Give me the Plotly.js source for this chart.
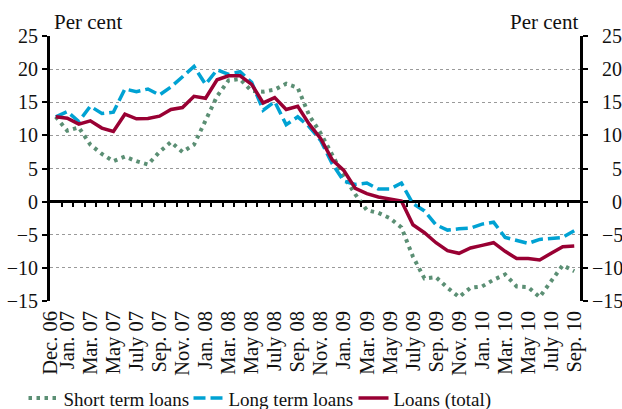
<!DOCTYPE html>
<html>
<head>
<meta charset="utf-8">
<script src="https://cdn.plot.ly/plotly-3.0.1.min.js"></script>
<style>
  html, body { margin: 0; padding: 0; background: #ffffff; }
  #chart { width: 622px; height: 409px; }
</style>
</head>
<body>
<div id="chart"></div>
<script>
// Monthly categories, Dec 2006 - Sep 2010
const months = [
  'Dec. 06',
  'Jan. 07','Feb. 07','Mar. 07','Apr. 07','May 07','June 07','July 07','Aug. 07','Sep. 07','Oct. 07','Nov. 07','Dec. 07',
  'Jan. 08','Feb. 08','Mar. 08','Apr. 08','May 08','June 08','July 08','Aug. 08','Sep. 08','Oct. 08','Nov. 08','Dec. 08',
  'Jan. 09','Feb. 09','Mar. 09','Apr. 09','May 09','June 09','July 09','Aug. 09','Sep. 09','Oct. 09','Nov. 09','Dec. 09',
  'Jan. 10','Feb. 10','Mar. 10','Apr. 10','May 10','June 10','July 10','Aug. 10','Sep. 10'
];

// Tick labels shown on the x axis
const tickLabels = [
  'Dec. 06','Jan. 07','Mar. 07','May 07','July 07','Sep. 07','Nov. 07',
  'Jan. 08','Mar. 08','May 08','July 08','Sep. 08','Nov. 08',
  'Jan. 09','Mar. 09','May 09','July 09','Sep. 09','Nov. 09',
  'Jan. 10','Mar. 10','May 10','July 10','Sep. 10'
];

// Series (per cent, annual growth)
const shortTerm = [
  12.8,
  10.7, 11.2, 8.6, 7.2, 6.1, 6.8, 6.1, 5.6, 7.5, 9.0, 7.5, 8.6,
  12.2, 15.9, 18.3, 18.5, 16.7, 16.6, 16.9, 17.8, 17.2, 13.0, 10.3, 7.0,
  3.8, 1.1, -1.3, -1.7, -2.5, -3.9, -8.3, -11.6, -11.4, -13.0, -14.4, -13.0,
  -12.8, -11.8, -11.0, -12.8, -12.9, -14.4, -12.0, -9.6, -10.5
];
const longTerm = [
  12.8,
  13.6, 12.1, 14.4, 13.3, 13.5, 17.0, 16.6, 17.0, 16.1, 17.3, 18.8, 20.4,
  17.7, 19.9, 19.2, 19.6, 18.0, 13.8, 15.1, 11.6, 12.8, 11.3, 9.2, 5.7,
  3.1, 2.6, 2.8, 1.9, 1.9, 2.8, -0.3, -1.4, -3.5, -4.3, -4.1, -4.0,
  -3.4, -3.1, -5.4, -5.9, -6.3, -5.7, -5.6, -5.4, -4.4
];
const totalLoans = [
  12.8,
  12.6, 11.7, 12.2, 11.1, 10.6, 13.2, 12.5, 12.55, 12.9, 13.9, 14.2, 15.9,
  15.6, 18.4, 19.0, 19.0, 17.7, 14.9, 15.7, 13.9, 14.4, 11.7, 9.5, 6.3,
  4.7, 2.0, 1.2, 0.7, 0.4, 0.1, -3.5, -4.7, -6.2, -7.4, -7.8, -7.0,
  -6.6, -6.2, -7.5, -8.6, -8.6, -8.8, -7.8, -6.8, -6.7
];

const seriesNames = ['Short term loans', 'Long term loans', 'Loans (total)'];
const yTicks = [-15, -10, -5, 0, 5, 10, 15, 20, 25];

const FONT = 'Liberation Serif, Times New Roman, serif';
const TXT = '#111111';
const xIdx = months.map((_, i) => i);
const xRange = [-0.5, months.length - 0.5];
const yRange = [-15, 25];
const fmt = v => (v < 0 ? '\u2212' + Math.abs(v) : String(v));
// right-hand labels are right aligned: pad with figure spaces
const fmtRight = v => {
  const s = fmt(v);
  const units = (v < 0 ? 1 : 0) + String(Math.abs(v)).length;
  return '\u2007'.repeat(Math.max(0, 3 - units)) + s;
};
const labelPos = tickLabels.map(l => Math.max(months.indexOf(l), -0.45));
const labelPosFirst = labelPos.map((p, i) => (i === 0 ? -0.45 : p));

const traces = [
  { x: xIdx, y: shortTerm, name: seriesNames[0], type: 'scatter', mode: 'lines',
    line: { color: '#5b8f74', width: 4, dash: '3.5px,4.5px' }, xaxis: 'x', yaxis: 'y' },
  { x: xIdx, y: longTerm, name: seriesNames[1], type: 'scatter', mode: 'lines',
    line: { color: '#00a2d3', width: 3.5, dash: '12px,5px' }, xaxis: 'x', yaxis: 'y' },
  { x: xIdx, y: totalLoans, name: seriesNames[2], type: 'scatter', mode: 'lines',
    line: { color: '#990033', width: 3.5 }, xaxis: 'x2', yaxis: 'y2' }
];

const layout = {
  width: 622, height: 409,
  margin: { l: 50, r: 42, t: 36, b: 107.6, autoexpand: false },
  paper_bgcolor: '#ffffff', plot_bgcolor: '#ffffff',
  font: { family: FONT, size: 19, color: TXT },
  showlegend: true,
  legend: {
    orientation: 'h', x: -0.05, xanchor: 'left', y: -0.367, yanchor: 'middle',
    font: { family: FONT, size: 19, color: TXT },
    bgcolor: 'rgba(0,0,0,0)', itemwidth: 30, tracegroupgap: 0,
    entrywidth: 120, entrywidthmode: 'pixels'
  },
  xaxis: {
    range: xRange, showgrid: false, zeroline: false, showline: false, automargin: false,
    ticks: '', tickvals: labelPosFirst, ticktext: tickLabels,
    ticklabelstandoff: 5, ticklabelshift: -3.5,
    tickangle: -90, tickfont: { family: FONT, size: 20.5, color: TXT }
  },
  xaxis2: {
    overlaying: 'x', anchor: 'free', position: 0.375, range: xRange, automargin: false,
    showgrid: false, zeroline: false, showline: true, linecolor: '#000', linewidth: 2.5,
    ticks: 'outside', ticklen: 4, tickwidth: 2, tickcolor: '#000',
    tickvals: months.slice(1).map((_, i) => i + 0.5), showticklabels: false
  },
  yaxis: {
    range: yRange, tickvals: yTicks, ticktext: yTicks.map(fmt), automargin: false,
    showgrid: true, gridcolor: '#9a9a9a', gridwidth: 1, griddash: 'dot',
    zeroline: true, zerolinecolor: '#000', zerolinewidth: 2.5,
    showline: true, linecolor: '#000', linewidth: 3,
    ticks: 'outside', ticklen: 5, tickwidth: 2, tickcolor: '#000',
    tickfont: { family: FONT, size: 20, color: TXT }
  },
  yaxis2: {
    overlaying: 'y', side: 'right', anchor: 'x', range: yRange, automargin: false,
    tickvals: yTicks, ticktext: yTicks.map(fmtRight),
    showgrid: false, zeroline: false,
    showline: true, linecolor: '#000', linewidth: 3,
    ticks: 'outside', ticklen: 5, tickwidth: 2, tickcolor: '#000',
    tickfont: { family: FONT, size: 20, color: TXT }
  },
  annotations: [
    { text: 'Per cent', xref: 'paper', yref: 'paper', x: 0, y: 1, xanchor: 'left', yanchor: 'bottom',
      xshift: 2, showarrow: false, font: { family: FONT, size: 21, color: TXT } },
    { text: 'Per cent', xref: 'paper', yref: 'paper', x: 1, y: 1, xanchor: 'right', yanchor: 'bottom',
      showarrow: false, font: { family: FONT, size: 21, color: TXT } }
  ]
};

Plotly.newPlot('chart', traces, layout, { displayModeBar: false, staticPlot: true });
</script>
</body>
</html>
